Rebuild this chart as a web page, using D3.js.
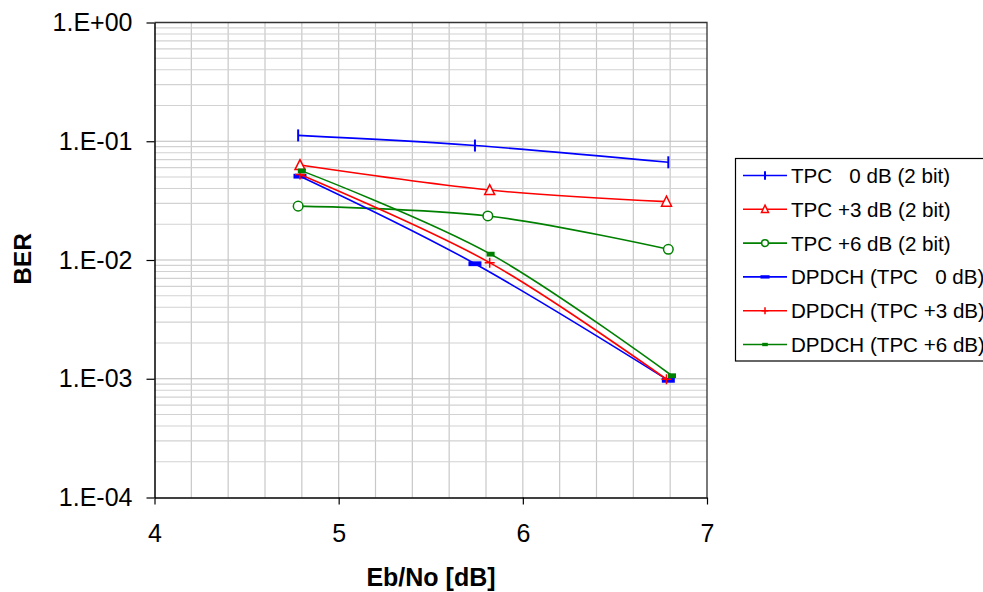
<!DOCTYPE html>
<html>
<head>
<meta charset="utf-8">
<script src="https://cdn.jsdelivr.net/npm/d3@7"></script>
<style>
  body { margin: 0; background: #fff; }
  svg { display: block; font-family: 'Liberation Sans', Arial, sans-serif; }
</style>
</head>
<body>
<div id="chart"></div>
<script>
// svg nominal area
var svgWidth = 983;
var svgHeight = 592;

// data (Eb/No in dB, BER)
var seriesNames = ['TPC   0 dB (2 bit)', 'TPC +3 dB (2 bit)', 'TPC +6 dB (2 bit)',
    'DPDCH (TPC   0 dB)', 'DPDCH (TPC +3 dB)', 'DPDCH (TPC +6 dB)'];
var ebnoTpc0 = [4.78, 5.74, 6.79];
var berTpc0 = [0.112, 0.092, 0.0665];
var ebnoTpc3 = [4.79, 5.82, 6.78];
var berTpc3 = [0.063, 0.0388, 0.031];
var ebnoTpc6 = [4.78, 5.81, 6.79];
var berTpc6 = [0.0284, 0.0235, 0.0123];
var ebnoDpdch0 = [4.79, 5.74, 6.79];
var berDpdch0 = [0.0508, 0.0093, 0.00097];
var ebnoDpdch3 = [4.79, 5.82, 6.78];
var berDpdch3 = [0.0525, 0.0095, 0.00099];
var ebnoDpdch6 = [4.80, 5.825, 6.81];
var berDpdch6 = [0.0563, 0.0112, 0.00106];

var xTicks = [4, 5, 6, 7];
var yTicks = [1, 1e-1, 1e-2, 1e-3, 1e-4];
var yTickLabels = ['1.E+00', '1.E-01', '1.E-02', '1.E-03', '1.E-04'];

// plot area
var plot = { left: 154.5, right: 707, top: 22.5, bottom: 497.5 };

// series styles
var styles = [
    { color: '#0000ff', marker: 'vbar' },
    { color: '#ff0000', marker: 'triangle' },
    { color: '#008000', marker: 'circle' },
    { color: '#0000ff', marker: 'hbar' },
    { color: '#ff0000', marker: 'plus' },
    { color: '#008000', marker: 'square' }
];

var xs = [ebnoTpc0, ebnoTpc3, ebnoTpc6, ebnoDpdch0, ebnoDpdch3, ebnoDpdch6];
var ys = [berTpc0, berTpc3, berTpc6, berDpdch0, berDpdch3, berDpdch6];
var series = seriesNames.map((name, i) => ({
    name: name,
    style: styles[i],
    values: xs[i].map((x, j) => ({ x: x, y: ys[i][j] }))
}));

var svg = d3.select('#chart')
    .append('svg')
    .attr('width', svgWidth)
    .attr('height', svgHeight);

var xScale = d3.scaleLinear()
    .domain([4, 7])
    .range([plot.left, plot.right]);

var yScale = d3.scaleLog()
    .domain([1e-4, 1])
    .range([plot.bottom, plot.top]);

// grid: vertical every 0.2 dB
var gridGroup = svg.append('g');
d3.range(4.2, 7.0, 0.2).forEach(v => {
    gridGroup.append('line')
        .attr('x1', xScale(v)).attr('x2', xScale(v))
        .attr('y1', plot.top).attr('y2', plot.bottom)
        .attr('stroke', '#c8c8c8')
        .attr('stroke-width', 1.2);
});

// grid: horizontal minor (2..9 per decade) and majors
for (var e = -4; e < 0; e++) {
    for (var m = 2; m <= 9; m++) {
        var v = m * Math.pow(10, e);
        gridGroup.append('line')
            .attr('x1', plot.left).attr('x2', plot.right)
            .attr('y1', yScale(v)).attr('y2', yScale(v))
            .attr('stroke', '#d2d2d2')
            .attr('stroke-width', 1.2);
    }
}
yTicks.slice(1, 4).forEach(v => {
    gridGroup.append('line')
        .attr('x1', plot.left).attr('x2', plot.right)
        .attr('y1', yScale(v)).attr('y2', yScale(v))
        .attr('stroke', '#bdbdbd')
        .attr('stroke-width', 1.2);
});

// frame top and right
svg.append('path')
    .attr('d', `M${plot.left},${plot.top}H${plot.right}V${plot.bottom}`)
    .attr('fill', 'none')
    .attr('stroke', '#333')
    .attr('stroke-width', 1.3);

// axes
var bottomAxis = d3.axisBottom(xScale)
    .tickValues(xTicks)
    .tickFormat(d3.format('d'))
    .tickSizeInner(7)
    .tickSizeOuter(0)
    .tickPadding(20);

var leftAxis = d3.axisLeft(yScale)
    .tickValues(yTicks)
    .tickFormat((d, i) => yTickLabels[i])
    .tickSizeInner(8)
    .tickSizeOuter(0)
    .tickPadding(14);

var xAxis = svg.append('g')
    .attr('transform', `translate(0, ${plot.bottom})`)
    .call(bottomAxis);

var yAxis = svg.append('g')
    .attr('transform', `translate(${plot.left}, 0)`)
    .call(leftAxis);

[xAxis, yAxis].forEach(a => {
    a.select('.domain').attr('stroke', '#000').attr('stroke-width', 1.5);
    a.selectAll('.tick line').attr('stroke', '#000').attr('stroke-width', 1.2);
    a.selectAll('.tick text')
        .attr('font-family', "'Liberation Sans', Arial, sans-serif")
        .attr('font-size', 25)
        .attr('fill', '#000');
});

// axis titles
svg.append('text')
    .attr('x', 431)
    .attr('y', 586)
    .attr('text-anchor', 'middle')
    .attr('font-size', 25)
    .attr('font-weight', 'bold')
    .text('Eb/No [dB]');

svg.append('text')
    .attr('transform', 'translate(31, 259) rotate(-90)')
    .attr('text-anchor', 'middle')
    .attr('font-size', 24.5)
    .attr('font-weight', 'bold')
    .text('BER');

// marker drawing
function drawMarker(g, type, color, cx, cy, s) {
    if (type === 'vbar') {
        g.append('line')
            .attr('x1', cx).attr('x2', cx)
            .attr('y1', cy - 6 * s).attr('y2', cy + 6 * s)
            .attr('stroke', color).attr('stroke-width', 2);
    } else if (type === 'triangle') {
        var h = 9 * s, w = 10 * s;
        g.append('path')
            .attr('d', `M${cx},${cy - h / 2 - 1}L${cx + w / 2},${cy + h / 2}L${cx - w / 2},${cy + h / 2}Z`)
            .attr('fill', '#fff').attr('stroke', color).attr('stroke-width', 1.5);
    } else if (type === 'circle') {
        g.append('circle')
            .attr('cx', cx).attr('cy', cy).attr('r', 4.8 * s)
            .attr('fill', '#fff').attr('stroke', color).attr('stroke-width', 1.5);
    } else if (type === 'hbar') {
        g.append('rect')
            .attr('x', cx - 6.5 * s).attr('y', cy - 2.4 * s)
            .attr('width', 13 * s).attr('height', 4.8 * s)
            .attr('fill', color);
    } else if (type === 'plus') {
        g.append('path')
            .attr('d', `M${cx - 5 * s},${cy}H${cx + 5 * s}M${cx},${cy - 5 * s}V${cy + 5 * s}`)
            .attr('stroke', color).attr('stroke-width', 1.5);
    } else if (type === 'square') {
        g.append('rect')
            .attr('x', cx - 4 * s).attr('y', cy - 2.4 * s)
            .attr('width', 8 * s).attr('height', 4.8 * s)
            .attr('fill', color);
    }
}

// smoothed lines like the spreadsheet ones
var line = d3.line()
    .x(d => xScale(d.x))
    .y(d => yScale(d.y))
    .curve(d3.curveCardinal.tension(0));

var seriesGroup = svg.append('g');
series.forEach(s => {
    var g = seriesGroup.append('g');
    g.append('path')
        .datum(s.values)
        .attr('d', line)
        .attr('fill', 'none')
        .attr('stroke', s.style.color)
        .attr('stroke-width', 1.6);
    s.values.forEach(d => drawMarker(g, s.style.marker, s.style.color, xScale(d.x), yScale(d.y), 1));
});

// legend (its right side runs past the picture edge, as in the original)
var legend = svg.append('g');
legend.append('rect')
    .attr('x', 735.5)
    .attr('y', 158.5)
    .attr('width', 300)
    .attr('height', 202.5)
    .attr('fill', '#fff')
    .attr('stroke', '#000')
    .attr('stroke-width', 1.2);

series.forEach((s, i) => {
    var cy = 175.5 + i * 33.8;
    legend.append('line')
        .attr('x1', 743).attr('x2', 787)
        .attr('y1', cy).attr('y2', cy)
        .attr('stroke', s.style.color)
        .attr('stroke-width', 1.6);
    drawMarker(legend, s.style.marker, s.style.color, 765, cy, 0.7);
    legend.append('text')
        .attr('x', 791)
        .attr('y', cy)
        .attr('dy', '0.36em')
        .attr('font-size', 20.6)
        .attr('fill', '#000')
        .attr('xml:space', 'preserve')
        .style('white-space', 'pre')
        .text(s.name);
});
</script>
</body>
</html>
